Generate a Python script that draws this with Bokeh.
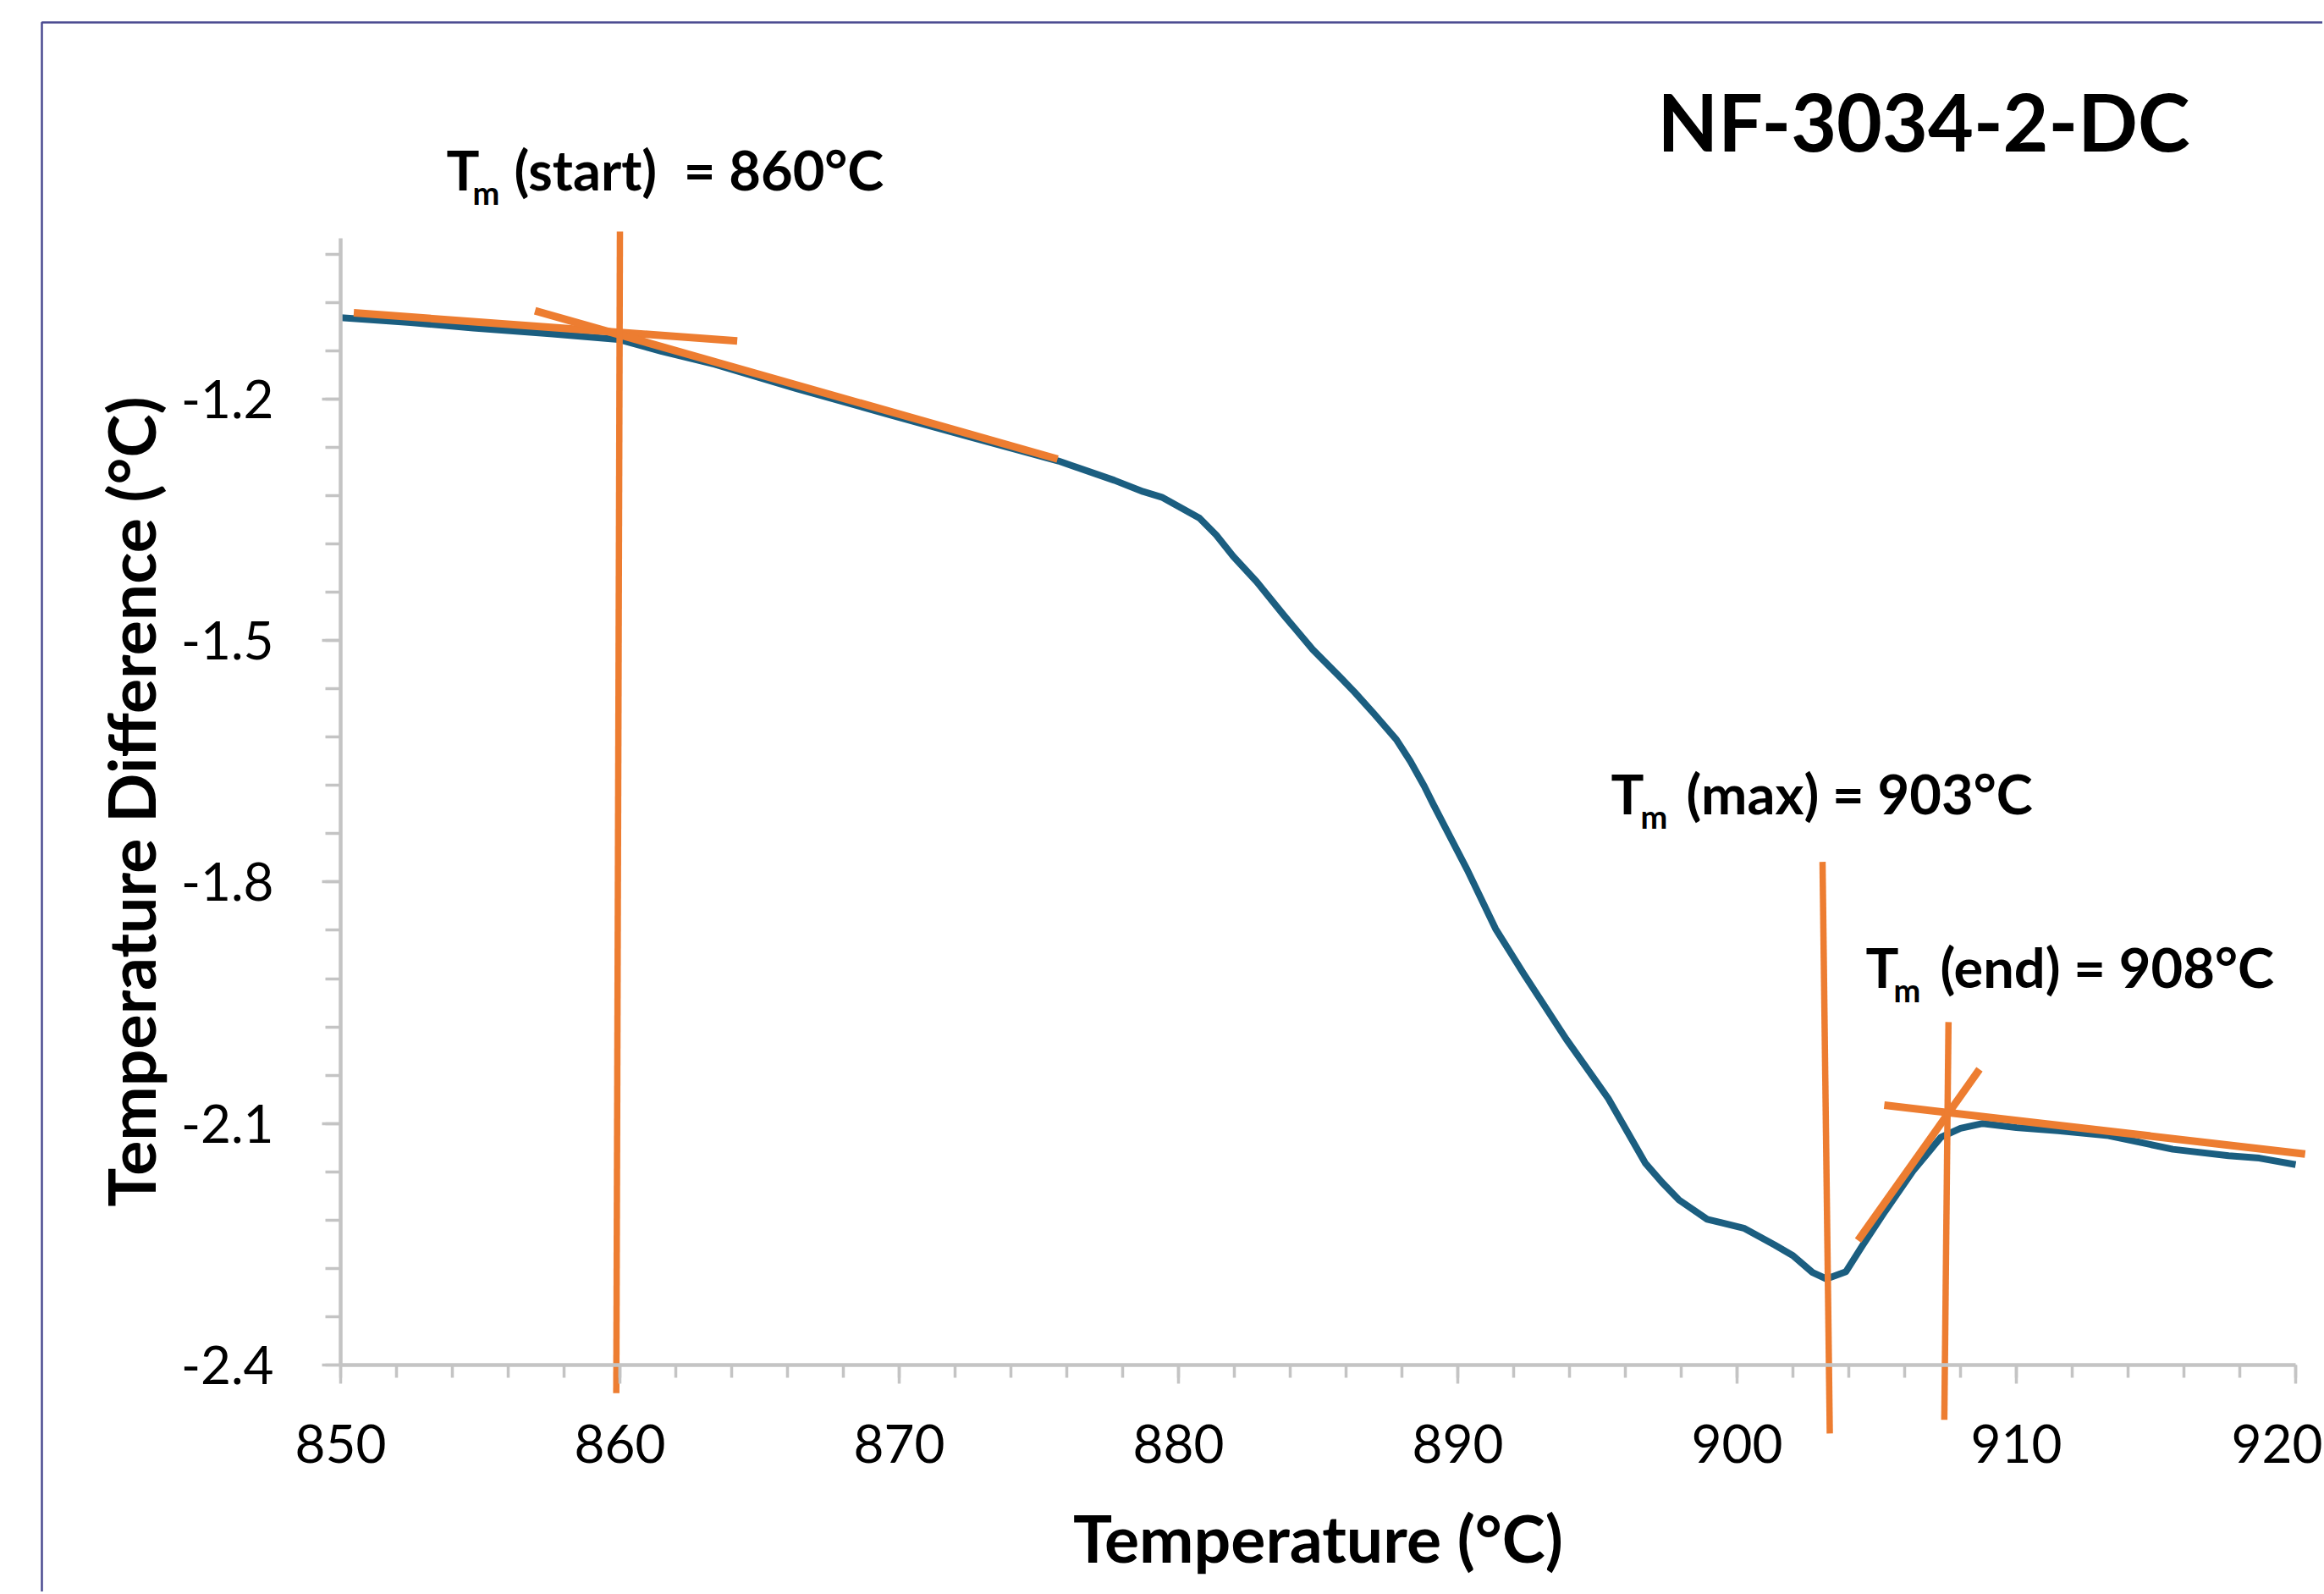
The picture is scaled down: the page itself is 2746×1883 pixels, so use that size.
from bokeh.plotting import figure
from bokeh.models import Range1d, FixedTicker, LinearAxis, CustomJSTickFormatter
from bokeh.core.properties import value
from bokeh.embed import file_html
from bokeh.resources import INLINE

# ---------------- data ----------------
temperature = [850.0, 852.5, 854.75, 857.5, 859.94, 861.5, 863.4, 866.3, 869.7, 872.5,
               875.7, 877.7, 878.73, 879.4, 880.75, 881.35, 881.96, 882.8, 883.78, 884.8,
               885.8, 886.3, 887.0, 887.8, 888.3, 888.8, 889.13, 890.34, 891.35, 892.36,
               893.88, 895.39, 896.71, 897.31, 897.92, 898.93, 900.24, 901.35, 902.0, 902.7,
               903.2, 903.9, 904.5, 905.3, 906.3, 907.3, 908.0, 908.8, 910.0, 911.5,
               913.3, 915.6, 917.6, 918.7, 920.0]
temp_difference = [-1.099, -1.105, -1.112, -1.119, -1.126, -1.141, -1.157, -1.187, -1.220, -1.247,
                   -1.277, -1.301, -1.315, -1.322, -1.348, -1.369, -1.3955, -1.427, -1.469, -1.511,
                   -1.546, -1.564, -1.591, -1.623, -1.650, -1.681, -1.704, -1.785, -1.858, -1.914,
                   -1.995, -2.069, -2.149, -2.173, -2.195, -2.219, -2.230, -2.251, -2.264, -2.285,
                   -2.293, -2.284, -2.251, -2.209, -2.159, -2.117, -2.106, -2.100, -2.105, -2.109,
                   -2.115, -2.132, -2.140, -2.143, -2.151]

x_ticks = [850, 860, 870, 880, 890, 900, 910, 920]
x_minor_ticks = [850 + 2 * i for i in range(36)]
y_ticks = [-2.4, -2.1, -1.8, -1.5, -1.2]
y_minor_ticks = [round(-2.4 + 0.06 * i, 2) for i in range(24)]

# construction lines (tangents and verticals), data coordinates
start_base_x, start_base_y = [850.47, 864.2], [-1.093, -1.128]
start_slope_x, start_slope_y = [856.96, 875.67], [-1.0905, -1.2746]
start_vert_x, start_vert_y = [860.0, 859.87], [-0.992, -2.435]
max_vert_x, max_vert_y = [903.06, 903.32], [-1.775, -2.485]
end_vert_x, end_vert_y = [907.57, 907.42], [-1.974, -2.468]
end_slope_x, end_slope_y = [904.33, 908.68], [-2.2454, -2.0327]
end_base_x, end_base_y = [905.27, 920.34], [-2.0772, -2.1379]

title_text = "NF-3034-2-DC"
label_rest = ["(start)\u00a0 = 860°C", "(max) = 903°C", "(end) = 908°C"]

# ---------------- layout ----------------
W, H = 2744, 1880
OFFSET = 0                          # page position of canvas origin
PX_X, PX_Y = 33.0, 951.0            # pixels per data unit
X0_PAGE, Y0_PAGE = 402, 1612        # page pixel of (850, -2.4)
x_start = 850 - (X0_PAGE - OFFSET) / PX_X
x_end = x_start + W / PX_X
y_end = -2.4 + (Y0_PAGE - OFFSET) / PX_Y
y_start = y_end - H / PX_Y


def px_x(X):
    return x_start + (X - OFFSET) / PX_X


def px_y(Y):
    return y_end - (Y - OFFSET) / PX_Y


p = figure(width=W, height=H, output_backend="svg", toolbar_location=None,
           x_range=Range1d(x_start, x_end), y_range=Range1d(y_start, y_end),
           x_axis_type=None, y_axis_type=None, min_border=0)
p.outline_line_color = None
p.background_fill_color = "white"
p.border_fill_color = "white"
p.xgrid.visible = False
p.ygrid.visible = False

AX_COLOR = "#C4C4C4"
FONT = "Lato"

xaxis = LinearAxis(fixed_location=-2.4, bounds=(850, 920),
                   ticker=FixedTicker(ticks=x_ticks, minor_ticks=x_minor_ticks))
yaxis = LinearAxis(fixed_location=850, bounds=(-2.4, -1.0),
                   ticker=FixedTicker(ticks=y_ticks, minor_ticks=y_minor_ticks),
                   formatter=CustomJSTickFormatter(code="return tick.toFixed(1);"))
for ax in (xaxis, yaxis):
    ax.axis_line_color = AX_COLOR
    ax.axis_line_width = 4.5
    ax.major_tick_line_color = AX_COLOR
    ax.major_tick_line_width = 3.5
    ax.minor_tick_line_color = AX_COLOR
    ax.minor_tick_line_width = 3.5
    ax.major_tick_in = 0
    ax.minor_tick_in = 0
    ax.major_tick_out = 22
    ax.major_label_text_font = FONT
    ax.major_label_text_font_size = "62px"
    ax.major_label_text_color = "black"
    ax.axis_label_text_font = FONT
    ax.axis_label_text_font_style = "bold"
    ax.axis_label_text_font_size = "77px"
    ax.axis_label_text_color = "black"
xaxis.minor_tick_out = 15
yaxis.minor_tick_out = 18
xaxis.major_label_standoff = 48
yaxis.major_label_standoff = 57
xaxis.axis_label = "Temperature (°C)"
yaxis.axis_label = "Temperature Difference (°C)"
xaxis.axis_label_standoff = 39
yaxis.axis_label_standoff = 11
p.add_layout(xaxis, "below")
p.add_layout(yaxis, "left")

# purple frame border
p.line([px_x(49), px_x(49), x_end], [y_start, px_y(26), px_y(26)],
       line_color="#4A4A90", line_width=2.5)

# data curve
p.line(temperature, temp_difference, line_color="#1B5E80", line_width=8,
       line_join="round")

ORANGE = "#ED7D31"
for xs, ys in [(start_base_x, start_base_y), (start_slope_x, start_slope_y),
               (end_slope_x, end_slope_y), (end_base_x, end_base_y)]:
    p.line(xs, ys, line_color=ORANGE, line_width=9, line_cap="butt")
for xs, ys in [(start_vert_x, start_vert_y), (max_vert_x, max_vert_y),
               (end_vert_x, end_vert_y)]:
    p.line(xs, ys, line_color=ORANGE, line_width=7.5, line_cap="butt")

# annotation labels (T, subscript m, rest); baseline correction for text box
BASE_CORR = 0.42
t_pos = [(527, 227), (1903, 964), (2204, 1169)]
m_x = [558, 1938, 2237]
rest_x = [607, 1992, 2292]
bold = dict(text_font=value(FONT), text_font_style="bold", text_color="black",
            text_align="left", text_baseline="alphabetic")


def ty(Y, fs):
    return px_y(Y - BASE_CORR * fs)


p.text(x=[px_x(X) for X, _ in t_pos], y=[ty(Y, 65) for _, Y in t_pos], text=["T"] * 3,
       text_font_size="65px", **bold)
p.text(x=[px_x(X) for X in m_x], y=[ty(Y + 15, 38) for _, Y in t_pos], text=["m"] * 3,
       text_font_size="38px", **bold)
p.text(x=[px_x(X) for X in rest_x], y=[ty(Y, 65) for _, Y in t_pos], text=label_rest,
       text_font_size="65px", **bold)
p.text(x=[px_x(1958)], y=[ty(182, 93)], text=[title_text], text_font_size="93px", **bold)

open("out.html", "w").write(file_html(p, INLINE))
